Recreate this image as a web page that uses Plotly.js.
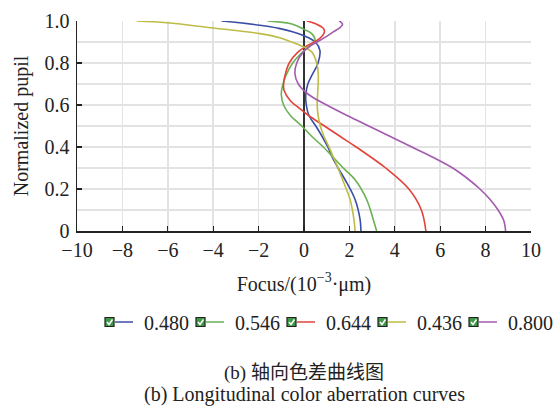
<!DOCTYPE html>
<html>
<head>
<meta charset="utf-8">
<script src="https://cdn.plot.ly/plotly-3.0.1.min.js"></script>
<style>html,body{margin:0;padding:0;background:#fff;}#chart{width:559px;height:409px;}</style>
</head>
<body>
<div id="chart"></div>
<script>
// Series names (wavelengths, µm)
const seriesNames = ["0.480", "0.546", "0.644", "0.436", "0.800"];
const seriesColors = ["#3b4ea6", "#6ab153", "#e0443a", "#bcbc46", "#a35bae"];

// 0.480
const pupil480 = [0, 0.055, 0.15, 0.244, 0.3, 0.35, 0.4, 0.45, 0.5, 0.55, 0.6, 0.65, 0.7, 0.74, 0.8, 0.86, 0.9, 0.93, 0.948, 0.965, 0.98, 1.0];
const focus480 = [2.51, 2.47, 2.25, 1.81, 1.5, 1.25, 1.05, 0.8, 0.52, 0.22, 0.1, 0.08, 0.17, 0.34, 0.62, 0.7, 0.5, 0.0, -0.47, -1.1, -1.94, -3.63];
// 0.546
const pupil546 = [0, 0.055, 0.15, 0.244, 0.3, 0.34, 0.4, 0.45, 0.5, 0.55, 0.6, 0.65, 0.69, 0.74, 0.8, 0.84, 0.87, 0.91, 0.94, 0.96, 0.985, 1.0];
const focus546 = [3.2, 3.05, 2.76, 2.25, 1.73, 1.38, 0.85, 0.35, -0.1, -0.6, -0.9, -1.0, -0.95, -0.8, -0.5, -0.18, 0.12, 0.48, 0.34, 0.0, -0.5, -1.6];
// 0.644
const pupil644 = [0, 0.1, 0.2, 0.3, 0.4, 0.45, 0.5, 0.55, 0.584, 0.62, 0.67, 0.7, 0.74, 0.8, 0.853, 0.885, 0.917, 0.948, 0.965, 0.985, 1.0];
const focus644 = [5.37, 5.17, 4.62, 3.6, 2.3, 1.6, 0.9, 0.2, -0.2, -0.6, -0.88, -0.9, -0.84, -0.65, -0.26, 0.18, 0.7, 0.9, 0.85, 0.56, 0.12];
// 0.436
const pupil436 = [0, 0.055, 0.15, 0.244, 0.3, 0.35, 0.4, 0.45, 0.5, 0.545, 0.6, 0.65, 0.742, 0.8, 0.853, 0.885, 0.908, 0.92, 0.94, 0.967, 0.992, 1.0];
const focus436 = [2.25, 2.2, 2.03, 1.7, 1.5, 1.3, 1.1, 0.88, 0.72, 0.63, 0.58, 0.6, 0.63, 0.56, 0.34, -0.18, -0.76, -1.06, -1.94, -4.0, -6.05, -7.37];
// 0.800
const pupil800 = [0, 0.05, 0.1, 0.15, 0.2, 0.25, 0.3, 0.35, 0.4, 0.45, 0.5, 0.55, 0.6, 0.65, 0.7, 0.75, 0.8, 0.853, 0.885, 0.917, 0.948, 0.97, 0.985, 1.0];
const focus800 = [8.88, 8.8, 8.55, 8.2, 7.75, 7.2, 6.55, 5.7, 4.75, 3.8, 2.85, 1.9, 1.0, 0.2, -0.25, -0.4, -0.32, -0.03, 0.34, 0.85, 1.29, 1.6, 1.7, 1.55];

const xTickVals = [-10, -8, -6, -4, -2, 0, 2, 4, 6, 8, 10];
const yTickVals = [0, 0.2, 0.4, 0.6, 0.8, 1.0];
const yTickText = ["0", "0.2", "0.4", "0.6", "0.8", "1.0"];

const xTitle = "Focus/(10<sup>\u22123</sup>\u00b7\u03bcm)";
const yTitle = "Normalized pupil";
const captionCN = "(b) 轴向色差曲线图";
const captionEN = "(b) Longitudinal color aberration curves";

const pupils = [pupil480, pupil546, pupil644, pupil436, pupil800];
const focuses = [focus480, focus546, focus644, focus436, focus800];

const traces = seriesNames.map((n, i) => ({
  type: "scatter", mode: "lines", name: n,
  x: focuses[i], y: pupils[i],
  line: {color: seriesColors[i], width: 1.6, shape: "spline", smoothing: 1.0},
  cliponaxis: true
}));

const serif = "Liberation Serif, Times New Roman, serif";
const L = 77, T = 21, W = 454, H = 210;
function px2paperX(p){ return (p - L) / W; }
function px2paperY(p){ return (T + H - p) / H; }

const layout = {
  width: 559, height: 409,
  margin: {l: L, r: 559 - L - W, t: T, b: 409 - T - H, pad: 0, autoexpand: false},
  paper_bgcolor: "#fff", plot_bgcolor: "#fff",
  font: {family: serif, size: 20, color: "#222"},
  showlegend: true,
  legend: {orientation: "h", x: px2paperX(559), xanchor: "right", y: px2paperY(322), yanchor: "middle",
    font: {family: serif, size: 20, color: "#222"}, bgcolor: "rgba(0,0,0,0)", itemwidth: 30,
    entrywidth: 46, entrywidthmode: "pixels", traceorder: "normal"},
  xaxis: {range: [-10, 10], tickvals: xTickVals, ticks: "inside", ticklen: 5, tickwidth: 1.2, tickcolor: "#222",
    showline: true, linecolor: "#222", linewidth: 1.5, showgrid: true, gridcolor: "#e3e3e3", gridwidth: 1.5,
    zeroline: true, zerolinecolor: "#333", zerolinewidth: 1.5,
    tickfont: {family: serif, size: 20, color: "#222"},
    title: {text: xTitle, font: {family: serif, size: 20, color: "#222"}, standoff: 17}},
  yaxis: {range: [0, 1], tickvals: yTickVals, ticktext: yTickText, ticks: "inside", ticklen: 5, tickwidth: 1.2, tickcolor: "#222",
    showline: true, linecolor: "#222", linewidth: 1.5, showgrid: true, gridcolor: "#e3e3e3", gridwidth: 1.5,
    minor: {dtick: 0.1, showgrid: true, gridcolor: "#e3e3e3", gridwidth: 1.5, ticks: ""},
    zeroline: false, ticklabelstandoff: 2,
    tickfont: {family: serif, size: 20, color: "#222"},
    title: {text: yTitle, font: {family: serif, size: 20, color: "#222"}, standoff: 10}},
  annotations: [
    {xref: "paper", yref: "paper", x: px2paperX(304), y: px2paperY(373), text: captionCN, showarrow: false,
      font: {family: "Liberation Serif, Noto Sans CJK SC, serif", size: 19, color: "#222"}, xanchor: "center", yanchor: "middle"},
    {xref: "paper", yref: "paper", x: px2paperX(304), y: px2paperY(394), text: captionEN, showarrow: false,
      font: {family: serif, size: 20, color: "#222"}, xanchor: "center", yanchor: "middle"}
  ]
};

const gd = document.getElementById("chart");
Plotly.newPlot(gd, traces, layout, {displayModeBar: false, staticPlot: true}).then(() => {
  // checkbox glyphs at the start of each legend entry
  const chartBox = gd.getBoundingClientRect();
  const lines = gd.querySelectorAll(".legend .traces .legendlines path");
  const shapes = [];
  lines.forEach(p => {
    const b = p.getBoundingClientRect();
    const bx = b.left - chartBox.left - 4;
    const cy = b.top - chartBox.top + b.height / 2;
    shapes.push({type: "rect", xref: "paper", yref: "paper",
      x0: px2paperX(bx), x1: px2paperX(bx + 9), y0: px2paperY(cy + 4.5), y1: px2paperY(cy - 4.5),
      fillcolor: "#3f9a48", line: {color: "#222", width: 1.2}});
    shapes.push({type: "path", xref: "paper", yref: "paper",
      path: `M ${px2paperX(bx+2)} ${px2paperY(cy)} L ${px2paperX(bx+4)} ${px2paperY(cy+2.5)} L ${px2paperX(bx+7.5)} ${px2paperY(cy-2.5)}`,
      line: {color: "#ffffff", width: 1.5}});
  });
  return Plotly.relayout(gd, {shapes: shapes});
}).then(() => {
  // shorten legend line samples so they sit after the checkbox, as in the original figure
  gd.querySelectorAll(".legend .traces .legendlines path").forEach(p => p.setAttribute("d", "M11,0h18"));
});
</script>
</body>
</html>
